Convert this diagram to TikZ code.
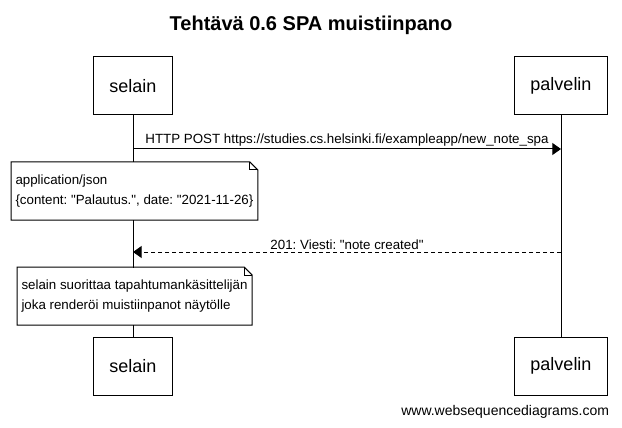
\documentclass[tikz,border=0pt]{standalone}
\usepackage{fontspec}
\setmainfont{Liberation Sans}
\usepackage{tikz}
\usetikzlibrary{arrows.meta, positioning, calc}

\newcommand{\dq}{\textquotedbl}
\frenchspacing

\begin{document}
\begin{tikzpicture}[
        x=0.75pt, y=-0.75pt,
        line width=0.75pt,
        actor/.style={draw, rectangle, fill=white, minimum height=43.5pt, inner xsep=12pt, font=\fontsize{13.5}{16}\selectfont},
        note/.style={rectangle, fill=white, anchor=north west, minimum height=42.75pt, inner xsep=3pt, align=left, font=\fontsize{10}{15}\selectfont},
        msg/.style={-{Triangle[length=6.5pt, width=9pt]}},
        reply/.style={msg, dash pattern=on 3pt off 2.25pt},
        msglabel/.style={midway, above=0pt, inner sep=1.5pt, font=\fontsize{10}{12}\selectfont}
    ]
        \useasboundingbox (0,0) rectangle (622,428);

        % Title
        \node[font=\fontsize{15}{18}\selectfont\bfseries] (title) at (311,25) {Tehtävä 0.6 SPA muistiinpano};

        % The Participants
        \node[actor] (selain) at (133,86) {selain};
        \node[actor] (palvelin) at (561,86) {palvelin};
        \node[actor] (selainend) at (133,366) {selain};
        \node[actor] (palvelinend) at (561,366) {palvelin};

        % Lifelines
        \draw (selain) -- (selainend);
        \draw (palvelin) -- (palvelinend);

        % Message ends on the lifelines
        \coordinate (post-s) at (133,149);
        \coordinate (post-e) at (561,149);
        \coordinate (resp-s) at (561,252);
        \coordinate (resp-e) at (133,252);

        % Request
        \draw[msg] (post-s) -- (post-e) node[msglabel] {HTTP POST https://studies.cs.helsinki.fi/exampleapp/new\_note\_spa};

        % Note on the payload
        \node[note, minimum width=182pt] (json) at (11,162) {application/json\\\{content: \dq Palautus.\dq, date: \dq 2021-11-26\}};
        \draw (json.south west) -- (json.north west) -- ([xshift=-6pt]json.north east) -- ([yshift=-6pt]json.north east) -- (json.south east) -- cycle;
        \draw ([xshift=-6pt]json.north east) |- ([yshift=-6pt]json.north east);

        % Response
        \draw[reply] (resp-s) -- (resp-e) node[msglabel] {201: Viesti: \dq note created\dq};

        % Note on the event handler
        \node[note, minimum width=172pt] (handler) at (17,267) {selain suorittaa tapahtumankäsittelijän\\joka renderöi muistiinpanot näytölle};
        \draw (handler.south west) -- (handler.north west) -- ([xshift=-6pt]handler.north east) -- ([yshift=-6pt]handler.north east) -- (handler.south east) -- cycle;
        \draw ([xshift=-6pt]handler.north east) |- ([yshift=-6pt]handler.north east);

        % Watermark
        \node[anchor=east, font=\fontsize{10.5}{12}\selectfont] (wsd) at (614,412) {www.websequencediagrams.com};
    \end{tikzpicture}
\end{document}
